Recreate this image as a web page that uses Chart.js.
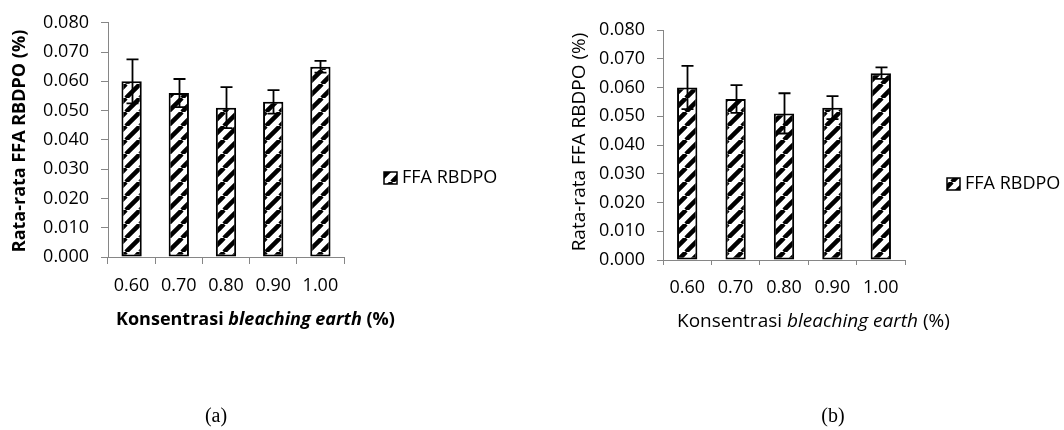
<!DOCTYPE html>
<html><head><meta charset="utf-8">
<script src="https://cdn.jsdelivr.net/npm/chart.js@4/dist/chart.umd.min.js"></script>
<style>
html,body{margin:0;padding:0;background:#fff;width:1064px;height:430px;overflow:hidden;position:relative}
canvas{position:absolute;top:0}
.cap{position:absolute;font-family:"Liberation Serif","Times New Roman",serif;font-size:20px;color:#000;transform:translateX(-50%);white-space:nowrap}
</style></head><body>
<canvas id="ca" width="532" height="430" style="left:0"></canvas>
<canvas id="cb" width="532" height="430" style="left:532px"></canvas>
<div class="cap" id="capA" style="left:216px;top:404px"></div>
<div class="cap" id="capB" style="left:833px;top:404px"></div>
<script>
// ---- data ----
const categories = ['0.60', '0.70', '0.80', '0.90', '1.00'];
const seriesLabel = 'FFA RBDPO';
const ffaMean = [0.060, 0.056, 0.051, 0.053, 0.065];
const ffaError = [0.0075, 0.0048, 0.007, 0.004, 0.002];
const yAxisTitle = 'Rata-rata FFA RBDPO (%)';
const xAxisTitleParts = [['Konsentrasi ', false], ['bleaching earth', true], [' (%)', false]];
const captions = ['(a)', '(b)'];
const yMin = 0, yMax = 0.08, yStep = 0.01;

document.getElementById('capA').textContent = captions[0];
document.getElementById('capB').textContent = captions[1];

const FONT = '"Open Sans", "Noto Sans", sans-serif';
const AXIS = '#868686';

function stripePattern(ctx, size, lw) {
  const c = document.createElement('canvas');
  c.width = c.height = size;
  const g = c.getContext('2d');
  g.fillStyle = '#fff'; g.fillRect(0, 0, size, size);
  g.strokeStyle = '#000'; g.lineWidth = lw;
  g.beginPath();
  for (const x0 of [-size, 0, size]) { g.moveTo(x0, size); g.lineTo(x0 + size, 0); }
  g.stroke();
  return ctx.createPattern(c, 'repeat');
}

const decoPlugin = {
  id: 'deco',
  afterDatasetsDraw(chart, args, o) {
    const ctx = chart.ctx;
    const meta = chart.getDatasetMeta(0);
    const ys = chart.scales.y;
    const ds = chart.data.datasets[0];
    ctx.save();
    ctx.strokeStyle = '#000';
    ctx.lineWidth = 1.8;
    meta.data.forEach((bar, i) => {
      const v = ds.data[i], e = ds.errors[i];
      const yt = ys.getPixelForValue(v + e), yb = ys.getPixelForValue(v - e);
      const x = Math.round(bar.x) + 0.5;
      ctx.beginPath();
      ctx.moveTo(x, yt); ctx.lineTo(x, yb);
      ctx.moveTo(x - o.cap, yt); ctx.lineTo(x + o.cap, yt);
      ctx.moveTo(x - o.cap, yb); ctx.lineTo(x + o.cap, yb);
      ctx.stroke();
    });
    ctx.restore();
  },
  afterDraw(chart, args, o) {
    const ctx = chart.ctx;
    ctx.save();
    ctx.fillStyle = '#000';
    // y title
    ctx.translate(o.yTitleX, o.yTitleY);
    ctx.rotate(-Math.PI / 2);
    ctx.font = (o.bold ? 'bold ' : '') + o.yTitleSize + 'px ' + FONT;
    ctx.textAlign = 'center'; ctx.textBaseline = 'middle';
    ctx.fillText(yAxisTitle, 0, 0);
    ctx.setTransform(1, 0, 0, 1, 0, 0);
    // x title
    ctx.textAlign = 'left'; ctx.textBaseline = 'alphabetic';
    let x = o.xTitleX;
    for (const [txt, it] of xAxisTitleParts) {
      ctx.font = (it ? 'italic ' : '') + (o.bold ? 'bold ' : '') + o.xTitleSize + 'px ' + FONT;
      ctx.fillText(txt, x, o.xTitleY);
      x += ctx.measureText(txt).width;
    }
    // legend
    const ds = chart.data.datasets[0];
    ctx.fillStyle = ds.backgroundColor;
    ctx.fillRect(o.legX, o.legY - 6, 13, 12);
    ctx.strokeStyle = '#000'; ctx.lineWidth = 1.5;
    ctx.strokeRect(o.legX, o.legY - 6, 13, 12);
    ctx.fillStyle = '#000';
    ctx.font = '18px ' + FONT;
    ctx.textBaseline = 'middle';
    ctx.fillText(ds.label, o.legX + 18, o.legY);
    ctx.restore();
  }
};

function makeChart(id, s) {
  const canvas = document.getElementById(id);
  const ctx = canvas.getContext('2d');
  return new Chart(canvas, {
    type: 'bar',
    data: {
      labels: categories,
      datasets: [{
        label: seriesLabel,
        data: ffaMean,
        errors: ffaError,
        backgroundColor: stripePattern(ctx, 14, 4.5),
        borderColor: '#000',
        borderWidth: 2,
        borderSkipped: false,
        categoryPercentage: 1,
        barPercentage: s.barPct
      }]
    },
    options: {
      responsive: false,
      animation: false,
      devicePixelRatio: 1,
      layout: { padding: s.padding },
      plugins: {
        legend: { display: false },
        tooltip: { enabled: false },
        deco: s.deco
      },
      scales: {
        x: {
          grid: { drawOnChartArea: false, offset: true, tickLength: s.xTick, color: AXIS, lineWidth: 1 },
          border: { color: AXIS, width: 1 },
          ticks: { color: '#000', font: { family: FONT, size: 18 }, padding: s.xPad, maxRotation: 0 },
          afterFit(scale) { scale.height = s.xH; }
        },
        y: {
          min: yMin, max: yMax,
          grid: { drawOnChartArea: false, tickLength: s.yTick, color: AXIS, lineWidth: 1 },
          border: { color: AXIS, width: 1 },
          ticks: { stepSize: yStep, color: '#000', font: { family: FONT, size: 18 }, padding: s.yPad,
                   callback: v => Number(v).toFixed(3) },
          afterFit(scale) { scale.width = s.yW; }
        }
      }
    },
    plugins: [decoPlugin]
  });
}

makeChart('ca', {
  padding: { left: 0, top: 20, right: 188, bottom: 93 },
  xH: 80, yW: 108, xTick: 7, yTick: 7, xPad: 11, yPad: 12, barPct: 0.43,
  deco: { cap: 6, bold: true, yTitleX: 20, yTitleY: 141, yTitleSize: 18,
          xTitleX: 116, xTitleY: 325, xTitleSize: 18, legX: 384, legY: 178 }
});
makeChart('cb', {
  padding: { left: 0, top: 30, right: 159, bottom: 90 },
  xH: 80, yW: 131, xTick: 5, yTick: 6, xPad: 12, yPad: 12, barPct: 0.42,
  deco: { cap: 6, bold: false, yTitleX: 48, yTitleY: 142, yTitleSize: 19,
          xTitleX: 145, xTitleY: 327, xTitleSize: 19, legX: 415, legY: 184 }
});
</script>
</body></html>
